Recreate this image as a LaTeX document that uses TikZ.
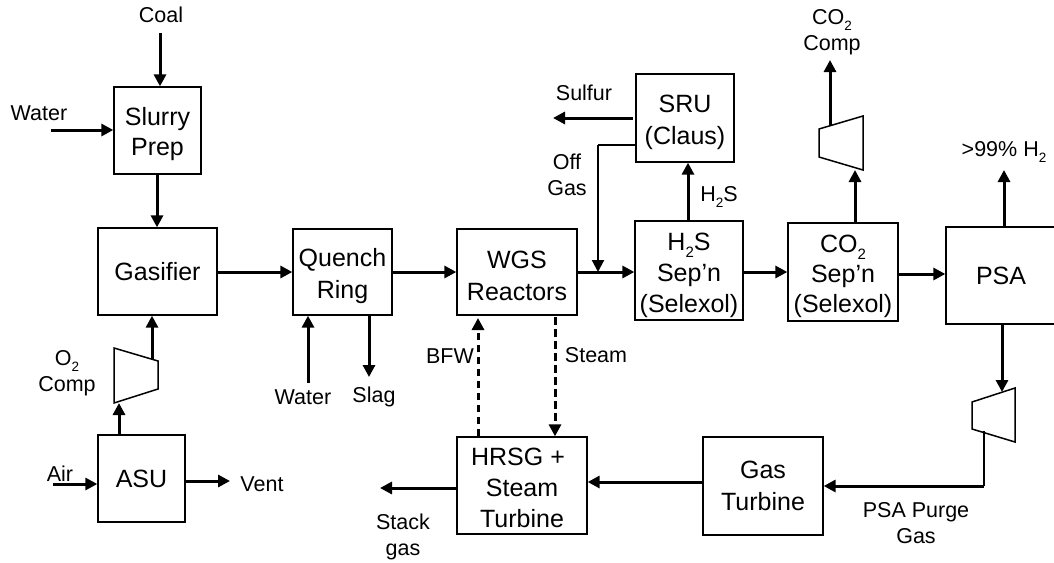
\documentclass[tikz,border=0pt]{standalone}
\usepackage{fontspec}
\setmainfont{Liberation Sans}
\usetikzlibrary{arrows.meta}
\newcommand{\subt}[1]{\raisebox{-0.5ex}{\fontsize{15}{15}\selectfont #1}}
\newcommand{\subl}[1]{\raisebox{-0.5ex}{\fontsize{13.5}{13.5}\selectfont #1}}
\newcommand{\dn}[1]{\rule{0pt}{#1pt}}
\tikzset{
 x=1pt,y=-1pt,
 box/.style={draw,line width=1.3pt,inner sep=0pt,align=center,font=\fontsize{25}{31}\selectfont},
 lab/.style={inner sep=0pt,align=center,font=\fontsize{21.5}{25.5}\selectfont},
 flow/.style={line width=3pt,-{Triangle[length=12pt,width=12pt]}},
 dflow/.style={flow,dash pattern=on 7.5pt off 4.5pt},
 comp/.style={draw,line width=1.5pt}
}
\newcommand{\bx}[6]{\node[box,minimum width=#4pt,minimum height=#5pt] (#1) at (#2+#4/2,#3+#5/2) {#6};}
\newcommand{\lb}[4]{\node[lab] (#1) at (#2,#3) {#4};}
\begin{document}
\begin{tikzpicture}
\useasboundingbox (0,0) rectangle (1054,562);
\clip (0,0) rectangle (1054,562);
\bx{slurry}{114}{87}{87}{87}{\dn{25}Slurry\\[-1pt]Prep}
\bx{gasifier}{98}{228}{119}{87}{Gasifier}
\bx{quench}{293}{229}{99}{86}{\dn{26}Quench\\[1pt]Ring}
\bx{wgs}{457}{229}{120}{86}{\dn{26}WGS\\[1pt]Reactors}
\bx{h2s}{635}{221}{108}{99}{\dn{27}H\subt{2}S\\Sep’n\\(Selexol)}
\bx{co2}{788}{223}{110}{98}{\dn{26}CO\subt{2}\\[-1pt]Sep’n\\[-1pt](Selexol)}
\bx{psa}{946}{227}{110}{97}{PSA}
\bx{sru}{636}{74}{98}{88}{\dn{27}SRU\\[1pt](Claus)}
\bx{asu}{98}{435}{87}{87}{ASU}
\bx{hrsg}{457}{437}{130}{97}{\dn{22}HRSG +\hspace*{8pt}\\Steam\\Turbine}
\bx{gt}{703}{437}{120}{98}{Gas\\[1pt]Turbine}
% compressors
\draw[comp] (114,348) -- (158,361) -- (158,389) -- (114,403) -- cycle;
\draw[comp] (819,129) -- (863,116) -- (863,170) -- (819,157) -- cycle;
\draw[comp] (972,402) -- (1015,388) -- (1015,442) -- (972,429) -- cycle;
\coordinate (c1top) at (152,360);\coordinate (c1bot) at (119,403);
\coordinate (c2top) at (830,126);\coordinate (c2bot) at (855,170);
\coordinate (c3top) at (1002,392);\coordinate (c3bot) at (984,431);
% labels
\lb{lcoal}{161}{15}{Coal}
\lb{lwater}{39}{113}{Water}
\lb{lo2}{67}{373}{O\subl{2}\\Comp}
\lb{lair}{60}{474}{Air}
\lb{lvent}{262}{484}{Vent}
\lb{lw2}{303}{397}{Water}
\lb{lslag}{374}{397}{Slag}
\lb{lbfw}{450}{356}{BFW}
\lb{lsteam}{596}{355}{Steam}
\lb{lstack}{403}{537}{Stack\\gas}
\lb{lsulfur}{584}{93}{Sulfur}
\lb{loff}{567}{175}{Off\\Gas}
\lb{lh2s}{719}{197}{H\subl{2}S}
\lb{lco2}{832}{32}{CO\subl{2}\\Comp}
\lb{lh2}{1004}{152}{>99\% H\subl{2}}
\lb{lpurge}{916}{523}{PSA Purge\\Gas}
% free ends
\coordinate (ecoal) at (160,33);
\coordinate (ewater) at (51,130);
\coordinate (eair) at (53,484);
\coordinate (event) at (230,481);
\coordinate (ew2) at (308,383);
\coordinate (eslag) at (369,377);
\coordinate (esul) at (553,118);
\coordinate (eco2) at (830,60);
\coordinate (eh2) at (1004,170);
\coordinate (estack) at (380,488);
\coordinate (offj) at (598,272);
\coordinate (bfwtip) at (478,318);
\coordinate (sulstart) at (633,118);
\coordinate (purgej) at (984,486);
\coordinate (offc) at (598,145);
% connectors
\draw[flow] (ecoal) -- (ecoal |- slurry.north);
\draw[flow] (ewater) -- (ewater -| slurry.west);
\draw[flow] (slurry.south -| 157,0) -- (157,0 |- gasifier.north);
\draw[flow] (gasifier.east |- 0,272) -- (quench.west |- 0,272);
\draw[flow] (quench.east |- 0,272) -- (wgs.west |- 0,272);
\draw[flow] (wgs.east |- offj) -- (h2s.west |- offj);
\draw[flow] (h2s.east |- offj) -- (co2.west |- offj);
\draw[flow] (co2.east |- 0,274) -- (psa.west |- 0,274);
\draw[flow] (asu.north -| c1bot) -- (c1bot);
\draw[flow] (c1top) -- (gasifier.south -| c1top);
\draw[flow] (eair) -- (eair -| asu.west);
\draw[flow] (asu.east |- event) -- (event);
\draw[flow] (ew2) -- (ew2 |- quench.south);
\draw[flow] (eslag |- quench.south) -- (eslag);
\draw[dflow] (hrsg.north -| bfwtip) -- (bfwtip);
\draw[dflow] (555,317) -- (555,0 |- hrsg.north);
\draw[flow] (sulstart) -- (esul);
\draw[comp] (sru.west |- offc) -- (offc);
\draw[flow,line width=2.2pt] (offc) -- (offj);
\draw[flow] (h2s.north -| 688,0) -- (688,0 |- sru.south);
\draw[flow] (co2.north -| c2bot) -- (c2bot);
\draw[flow] (c2top) -- (eco2);
\draw[flow] (psa.north -| eh2) -- (eh2);
\draw[flow] (psa.south -| c3top) -- (c3top);
\draw[comp] (c3bot) -- (purgej);
\draw[flow] (purgej) -- (gt.east |- purgej);
\draw[flow] (gt.west |- 0,482) -- (hrsg.east |- 0,482);
\draw[flow] (hrsg.west |- estack) -- (estack);
\end{tikzpicture}
\end{document}
